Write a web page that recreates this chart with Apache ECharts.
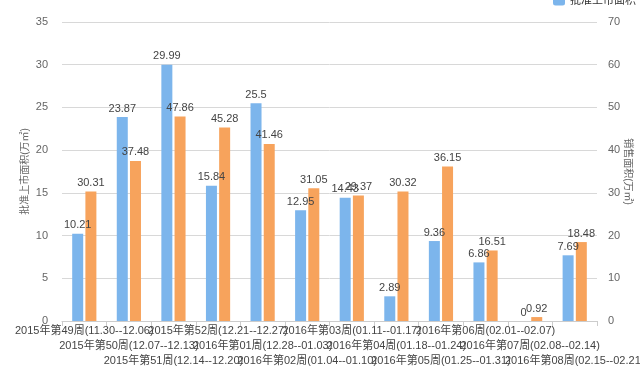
<!DOCTYPE html>
<html><head><meta charset="utf-8">
<script src="https://cdn.jsdelivr.net/npm/echarts@6/dist/echarts.min.js"></script>
<style>html,body{margin:0;padding:0;background:#fff}#c{width:640px;height:370px}</style>
</head><body><div id="c"></div>
<script>
const categories = [
 "2015年第49周(11.30--12.06)","2015年第50周(12.07--12.13)","2015年第51周(12.14--12.20)",
 "2015年第52周(12.21--12.27)","2016年第01周(12.28--01.03)","2016年第02周(01.04--01.10)",
 "2016年第03周(01.11--01.17)","2016年第04周(01.18--01.24)","2016年第05周(01.25--01.31)",
 "2016年第06周(02.01--02.07)","2016年第07周(02.08--02.14)","2016年第08周(02.15--02.21)"
];
const approved = [10.21, 23.87, 29.99, 15.84, 25.5, 12.95, 14.43, 2.89, 9.36, 6.86, 0, 7.69];
const sold = [30.31, 37.48, 47.86, 45.28, 41.46, 31.05, 29.37, 30.32, 36.15, 16.51, 0.92, 18.48];
const leftTicks = [0, 35, 5];
const rightTicks = [0, 70, 10];

const chart = echarts.init(document.getElementById('c'), null, {renderer:'canvas'});
const font = 'Liberation Sans, DejaVu Sans, Noto Sans CJK SC, sans-serif';
const lbl = {show:true, position:'top', color:'#444', fontSize:11, fontFamily:font, distance:3};
chart.setOption({
  animation:false,
  textStyle:{fontFamily:font},
  legend:{top:-10, left:548, orient:'horizontal', itemWidth:12, itemHeight:10,
    textStyle:{fontSize:11,color:'#333'},
    data:['批准上市面积']},
  grid:{left:62, right:43, top:22, bottom:49, outerBoundsMode:'none', containLabel:false},
  xAxis:{type:'category', data:categories,
    axisLine:{lineStyle:{color:'#ccc'}},
    axisTick:{show:true, alignWithLabel:false, lineStyle:{color:'#ccc'}, length:5},
    axisLabel:{interval:0, color:'#444', fontSize:11, margin:2, lineHeight:15,
      formatter:(v,i)=>('\n'.repeat(i%3))+v}},
  yAxis:[
    {type:'value', min:leftTicks[0], max:leftTicks[1], interval:leftTicks[2],
     name:'批准上市面积(万㎡)', nameLocation:'middle', nameGap:37, nameRotate:90,
     nameMoveOverlap:false,
     nameTextStyle:{color:'#666', fontSize:10, verticalAlign:'middle'},
     axisLabel:{color:'#666', fontSize:11, margin:14},
     axisLine:{show:false}, axisTick:{show:false},
     splitLine:{lineStyle:{color:'#d8d8d8'}}},
    {type:'value', min:rightTicks[0], max:rightTicks[1], interval:rightTicks[2],
     name:'销售面积(万㎡)', nameLocation:'middle', nameGap:31, nameRotate:-90,
     nameMoveOverlap:false,
     nameTextStyle:{color:'#666', fontSize:10, verticalAlign:'middle'},
     axisLabel:{color:'#666', fontSize:11, margin:11},
     axisLine:{show:false}, axisTick:{show:false},
     splitLine:{show:false}}
  ],
  series:[
    {name:'批准上市面积', type:'bar', data:approved, yAxisIndex:0, barWidth:11, barGap:'20%',
     itemStyle:{color:'#7cb5ec'}, label:lbl},
    {name:'销售面积', type:'bar', data:sold, yAxisIndex:1, barWidth:11,
     itemStyle:{color:'#f7a35c'}, label:lbl}
  ]
});
</script></body></html>
